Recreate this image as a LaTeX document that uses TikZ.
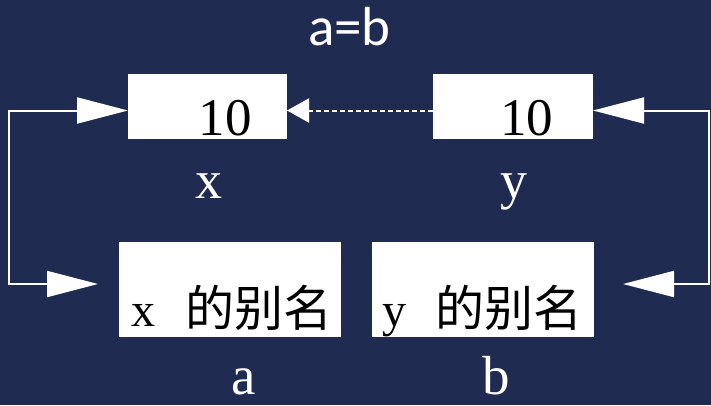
\documentclass[tikz,border=0pt]{standalone}
\usepackage{fontspec}
\setmainfont{Liberation Serif}
\newfontfamily\cjk{Noto Sans CJK SC}
\newfontfamily\lblfont{Carlito}
\usetikzlibrary{arrows.meta}
\definecolor{navy}{RGB}{31,43,81}
\begin{document}
\begin{tikzpicture}[x=1pt,y=-1pt,
  box/.style={fill=white,draw=none,inner sep=0pt,outer sep=0pt},
  num/.style={text=black,inner sep=0pt,font=\fontsize{53pt}{53pt}\selectfont},
  alias/.style={text=black,inner sep=0pt,font=\fontsize{48pt}{48pt}\selectfont},
  lbl/.style={text=white,inner sep=0pt,font=\fontsize{55pt}{55pt}\selectfont},
  conn/.style={draw=white,line width=2pt},
  dconn/.style={draw=white,line width=2pt,dash pattern=on 5pt off 3pt},
  bigtip/.tip={Triangle[length=51pt,width=26pt,fill=white]},
  smalltip/.tip={Triangle[length=22pt,width=24pt,fill=white]}]
\useasboundingbox (0,0) rectangle (711,405);
\fill[navy] (0,0) rectangle (711,405);
% boxes
\node[box,minimum width=159pt,minimum height=65pt] (bx) at (207.5,106.5) {};
\node[box,minimum width=160pt,minimum height=65pt] (by) at (513,106.5) {};
\node[box,minimum width=222pt,minimum height=95pt] (ba) at (230,289.5) {};
\node[box,minimum width=222pt,minimum height=95pt] (bb) at (483,289.5) {};
% texts in boxes
\node[num,anchor=base] (tx) at (225,135) {10};
\node[num,anchor=base] (ty) at (526.5,135) {10};
\node[alias,anchor=base west] (ta) at (131,326) {x\hspace{30pt}{\cjk\fontsize{49pt}{49pt}\selectfont 的别名}};
\node[alias,anchor=base west] (tb) at (382,326) {y\hspace{29.5pt}{\cjk\fontsize{49pt}{49pt}\selectfont 的别名}};
% labels
\node[lbl,anchor=base,font=\fontsize{54pt}{54pt}\selectfont] (lx) at (209,198) {x};
\node[lbl,anchor=base,font=\fontsize{54pt}{54pt}\selectfont] (ly) at (514,198) {y};
\node[lbl,anchor=base] (la) at (244,394) {a};
\node[lbl,anchor=base] (lb) at (496,394) {b};
\node[lbl,anchor=base,font=\lblfont\fontsize{55pt}{55pt}\selectfont] (title) at (349.5,45) {a=b};
% connectors
\coordinate (L1) at (8.5,110.5);
\coordinate (L2) at (8.5,284);
\coordinate (R1) at (708.5,110.5);
\coordinate (R2) at (708.5,284);
\draw[conn,bigtip-bigtip,shorten <=21pt] ([yshift=5.5pt]ba.west) -- (L2) -- (L1) -- ([yshift=-4pt]bx.west);
\draw[conn,bigtip-bigtip,shorten <=29pt] ([yshift=5.5pt]bb.east) -- (R2) -- (R1) -- ([yshift=-4pt]by.east);
\draw[dconn,-smalltip] ([yshift=-4pt]by.west) -- ([yshift=-4pt]bx.east);
\end{tikzpicture}
\end{document}
